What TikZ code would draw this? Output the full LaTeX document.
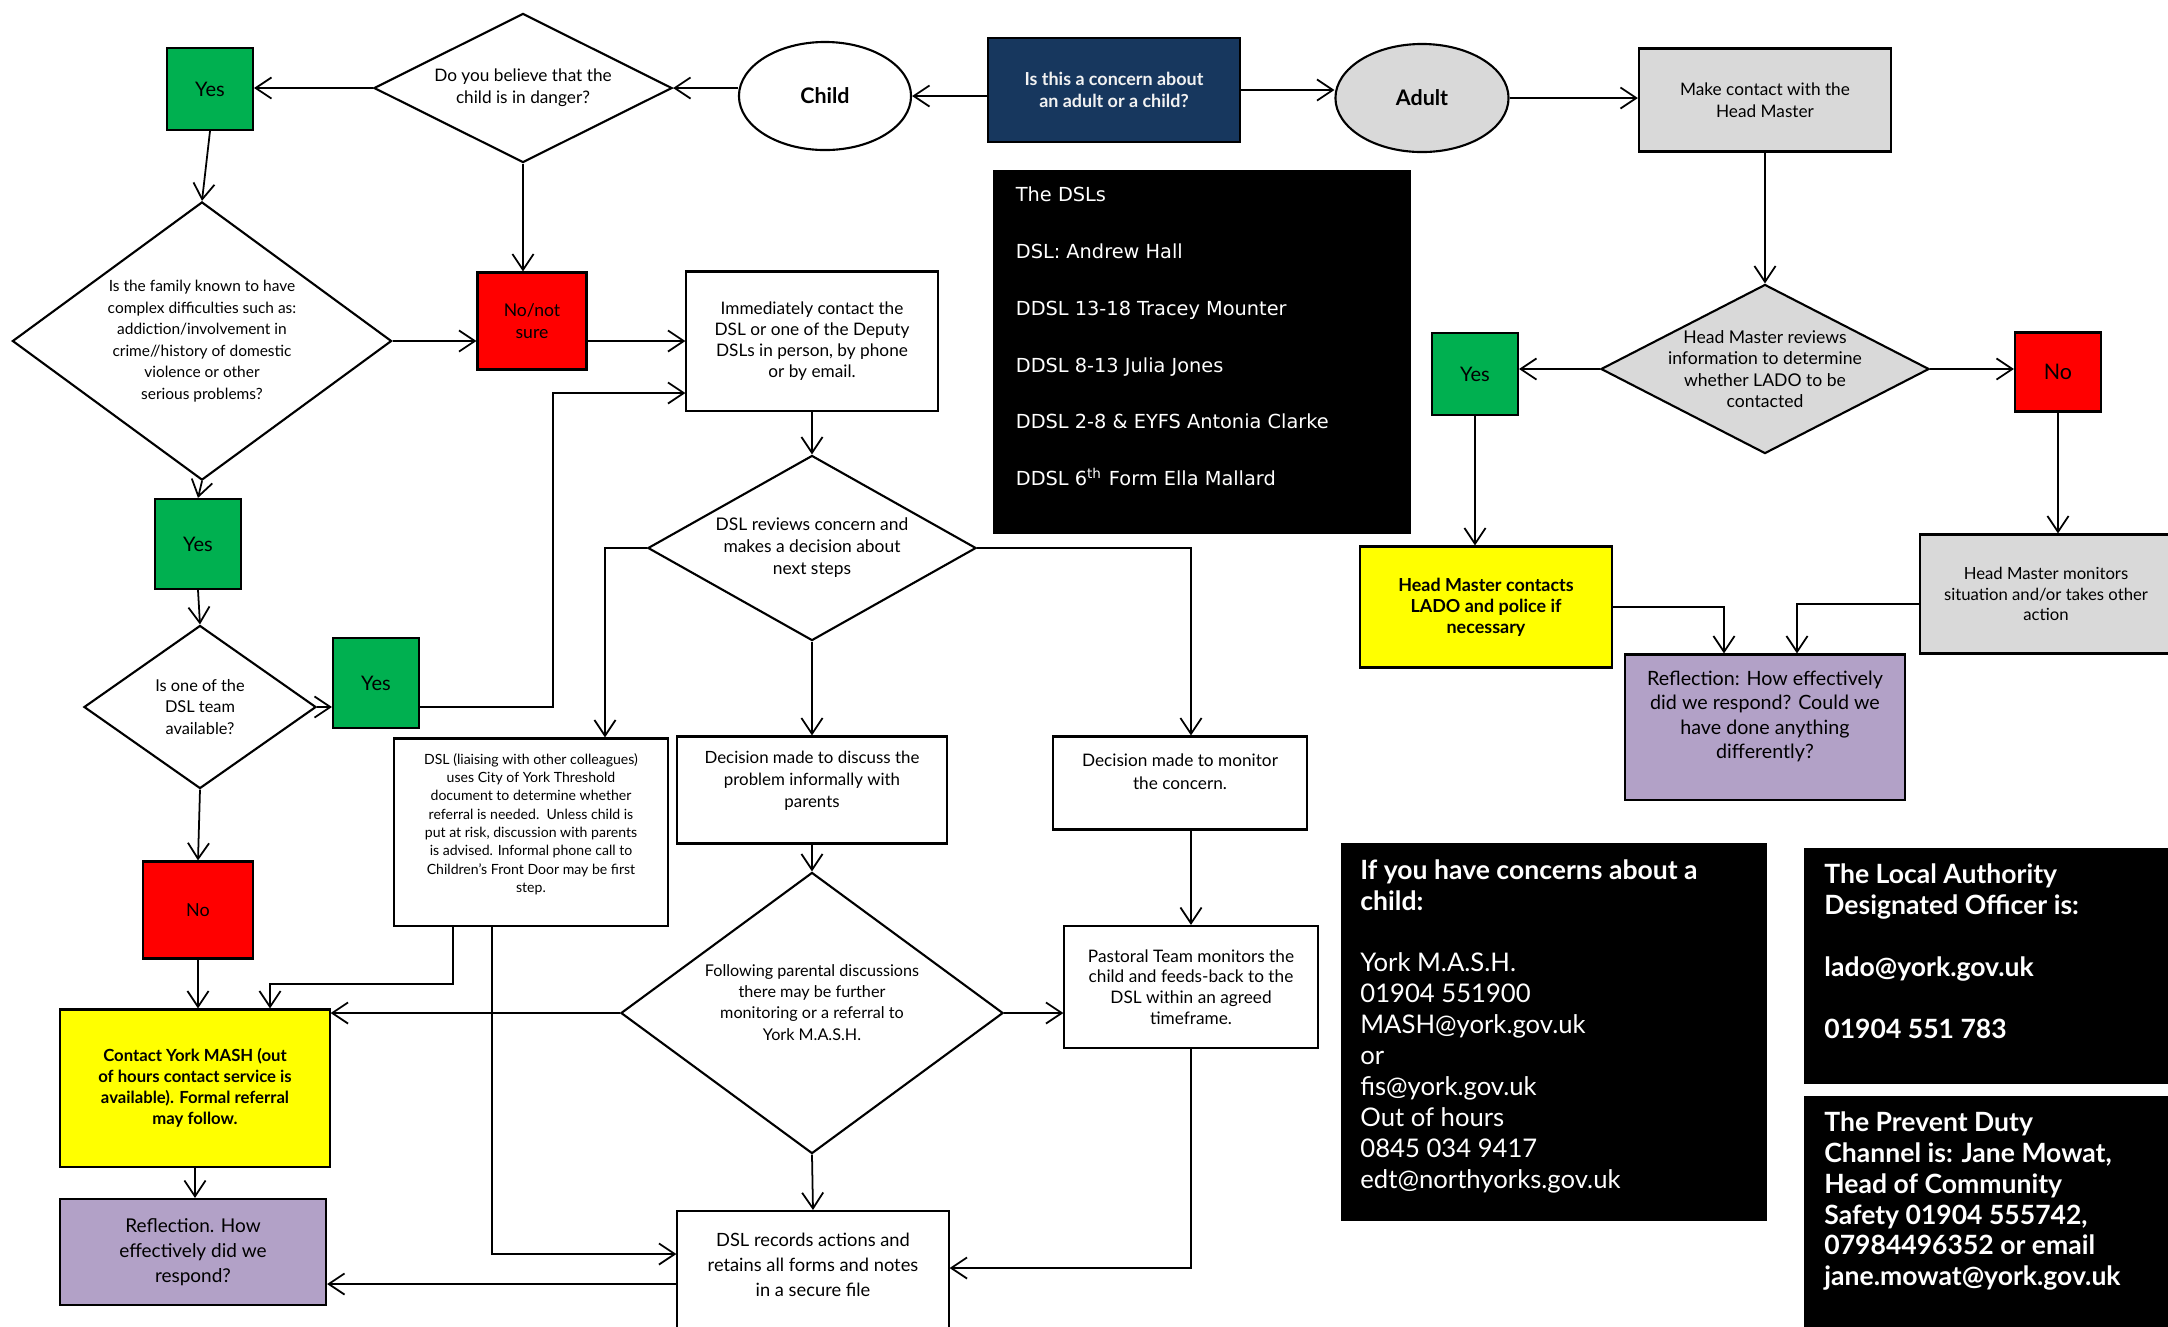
\documentclass[tikz,border=0pt]{standalone}
\usepackage{fontspec}
\setmainfont{Lato}
\newfontfamily\dslfont{DejaVu Sans}
\usepackage{tikz}
\usetikzlibrary{
  arrows.meta,
  positioning,
  shapes.geometric,
  calc
}
\definecolor{navy}{HTML}{17375E}
\definecolor{flowgreen}{HTML}{00B050}
\definecolor{flowred}{HTML}{FF0000}
\definecolor{flowyellow}{HTML}{FFFF00}
\definecolor{lilac}{HTML}{B2A1C7}
\definecolor{paleg}{HTML}{D9D9D9}
\newcommand{\fsz}[2]{\fontsize{#1}{#2}\selectfont}
\tikzset{
  box/.style={
    rectangle,
    draw,
    line width=0.6pt,
    align=center,
    inner sep=0pt
  },
  yesbox/.style={
    box,
    fill=flowgreen,
    minimum width=0.86cm,
    font=\fsz{5.7pt}{7pt}
  },
  redbox/.style={
    box,
    fill=flowred
  },
  decision/.style={
    diamond,
    draw,
    line width=0.6pt,
    align=center,
    inner sep=0pt
  },
  oval/.style={
    ellipse,
    draw,
    line width=0.6pt,
    inner sep=0pt,
    font=\bfseries\fsz{6.1pt}{7pt}
  },
  infobox/.style={
    rectangle,
    fill=black,
    draw=black,
    inner sep=0pt
  },
  infotext/.style={
    text=white,
    align=left,
    inner sep=0pt,
    anchor=north west
  },
  arrow/.style={
    -{Straight Barb[length=4.5pt,width=6pt]},
    line width=0.5pt
  }
}

\begin{document}
\begin{tikzpicture}[x=0.01cm,y=-0.01cm]
\path[use as bounding box,fill=white] (0,0) rectangle (2168,1326);

% top row
\node[box,fill=navy,text=white!95!black,minimum width=2.52cm,minimum height=1.04cm,font=\bfseries\fsz{5.1pt}{6.1pt}] (concern) at (1114,90) {Is this a concern about\\an adult or a child?};
\node[oval,fill=white,minimum width=1.72cm,minimum height=1.08cm] (child) at (825,96) {Child};
\node[oval,fill=paleg,minimum width=1.73cm,minimum height=1.08cm] (adult) at (1422,98) {Adult};
\node[decision,aspect=2,minimum width=2.98cm,minimum height=1.49cm,font=\fsz{4.9pt}{6.2pt}] (danger) at (523,88) {Do you believe that the\\child is in danger?};
\node[yesbox,minimum height=0.82cm] (yesA) at (210,89) {Yes};

% child side, left column
\node[decision,aspect=1.36,minimum width=3.79cm,minimum height=2.78cm,inner xsep=-0.03cm,font=\fsz{4.4pt}{6.1pt}] (family) at (202,341)
  {Is the family known to have\\complex difficulties such as:\\addiction/involvement in\\crime//history of domestic\\violence or other\\serious problems?};
\node[redbox,minimum width=1.09cm,minimum height=0.97cm,font=\fsz{5pt}{6.2pt}] (nonot) at (532,321) {No/not\\sure};
\node[yesbox,minimum height=0.90cm] (yesB) at (198,544) {Yes};
\node[decision,aspect=1.42,minimum width=2.32cm,minimum height=1.63cm,font=\fsz{4.65pt}{6pt}] (avail) at (200,707) {Is one of the\\DSL team\\available?};
\node[yesbox,minimum height=0.90cm] (yesC) at (376,683) {Yes};
\node[redbox,minimum width=1.10cm,minimum height=0.97cm,font=\fsz{5.1pt}{6.2pt}] (nobox) at (198,910) {No};
\node[box,fill=flowyellow,minimum width=2.69cm,minimum height=1.57cm,font=\bfseries\fsz{4.75pt}{6pt}] (mash) at (195,1088)
  {Contact York MASH (out\\of hours contact service is\\available). Formal referral\\may follow.};
\node[box,fill=lilac,minimum width=2.66cm,minimum height=1.06cm,font=\fsz{5.4pt}{7.1pt}] (reflA) at (193,1252) {Reflection. How\\effectively did we\\respond?};

% DSL column
\node[box,minimum width=2.51cm,minimum height=1.39cm,font=\fsz{4.9pt}{5.9pt}] (immediately) at (812,341)
  {Immediately contact the\\DSL or one of the Deputy\\DSLs in person, by phone\\or by email.};
\node[decision,aspect=1.77,minimum width=3.28cm,minimum height=1.85cm,font=\fsz{4.95pt}{6.25pt}] (dslrev) at (812,548)
  {DSL reviews concern and\\makes a decision about\\next steps};
\node[box,minimum width=2.74cm,minimum height=1.87cm,font=\fsz{4pt}{5.2pt}] (threshold) at (531,832)
  {DSL (liaising with other colleagues)\\uses City of York Threshold\\document to determine whether\\referral is needed.\ \ Unless child is\\put at risk, discussion with parents\\is advised. Informal phone call to\\Children's Front Door may be first\\step.\\~};
\node[box,minimum width=2.69cm,minimum height=1.07cm,font=\fsz{4.8pt}{6.2pt}] (discuss) at (812,790)
  {Decision made to discuss the\\problem informally with\\parents\\~};
\node[decision,aspect=1.36,minimum width=3.82cm,minimum height=2.81cm,font=\fsz{4.6pt}{6pt}] (following) at (812,1013)
  {Following parental discussions\\there may be further\\monitoring or a referral to\\York M.A.S.H.\\~};
\node[box,anchor=north,minimum width=2.71cm,minimum height=1.32cm,font=\fsz{5.2pt}{7.1pt}] (records) at (813,1210)
  {DSL records actions and\\retains all forms and notes\\in a secure file\\~};
\node[box,minimum width=2.53cm,minimum height=0.93cm,font=\fsz{4.9pt}{6.5pt}] (monitor) at (1180,783)
  {Decision made to monitor\\the concern.\\~};
\node[box,minimum width=2.53cm,minimum height=1.22cm,font=\fsz{4.9pt}{5.9pt}] (pastoral) at (1191,987)
  {Pastoral Team monitors the\\child and feeds-back to the\\DSL within an agreed\\timeframe.};

% adult side
\node[box,fill=paleg,minimum width=2.52cm,minimum height=1.03cm,font=\fsz{4.9pt}{6.2pt}] (makecontact) at (1765,100) {Make contact with the\\Head Master};
\node[decision,fill=paleg,aspect=1.94,minimum width=3.28cm,minimum height=1.69cm,inner xsep=-0.15cm,font=\fsz{5pt}{6.1pt}] (hmrev) at (1765,369)
  {Head Master reviews\\information to determine\\whether LADO to be\\contacted};
\node[yesbox,minimum height=0.82cm] (yesD) at (1475,374) {Yes};
\node[redbox,minimum width=0.86cm,minimum height=0.79cm,font=\fsz{6.1pt}{7pt}] (noD) at (2058,372) {No};
\node[box,fill=flowyellow,minimum width=2.52cm,minimum height=1.21cm,font=\bfseries\fsz{5.1pt}{6pt}] (hmcontacts) at (1486,607)
  {Head Master contacts\\LADO and police if\\necessary};
\node[box,fill=paleg,minimum width=2.52cm,minimum height=1.19cm,font=\fsz{4.75pt}{5.8pt}] (hmmonitors) at (2046,594)
  {Head Master monitors\\situation and/or takes other\\action};
\node[box,fill=lilac,minimum width=2.79cm,minimum height=1.45cm,font=\fsz{5.6pt}{7pt}] (reflB) at (1765,727)
  {Reflection: How effectively\\did we respond? Could we\\have done anything\\differently?\\~};

% black panels
\node[infobox,minimum width=4.16cm,minimum height=3.63cm] (dsls) at (1202,352) {};
\node[infotext,font=\dslfont\fsz{5.5pt}{16.2pt},below right=0.16cm and 0.22cm of dsls.north west] (dslnames)
  {The DSLs\\DSL: Andrew Hall\\DDSL 13-18 Tracey Mounter\\DDSL 8-13 Julia Jones\\DDSL 2-8 \& EYFS Antonia Clarke\\DDSL 6\textsuperscript{th} Form Ella Mallard};
\node[infobox,minimum width=4.25cm,minimum height=3.77cm] (ifyou) at (1554,1032) {};
\node[infotext,font=\fsz{7.3pt}{8.8pt},below right=0.16cm and 0.19cm of ifyou.north west] (ifyoutext)
  {\fsz{7.55pt}{8.8pt}\textbf{If you have concerns about a}\\\fsz{7.55pt}{8.8pt}\textbf{child:}\\[8.8pt]York M.A.S.H.\\01904 551900\\MASH@york.gov.uk\\or\\fis@york.gov.uk\\Out of hours\\0845 034 9417\\edt@northyorks.gov.uk};
\node[infobox,minimum width=3.67cm,minimum height=2.34cm] (lado) at (1988,966) {};
\node[infotext,font=\bfseries\fsz{7.55pt}{8.8pt},below right=0.15cm and 0.20cm of lado.north west] (ladotext)
  {The Local Authority\\Designated Officer is:\\[8.8pt]lado@york.gov.uk\\[8.8pt]01904 551 783};
\node[infobox,minimum width=3.67cm,minimum height=2.43cm] (prevent) at (1988,1218) {};
\node[infotext,font=\bfseries\fsz{7.55pt}{8.8pt},below right=0.15cm and 0.20cm of prevent.north west] (preventtext)
  {The Prevent Duty\\Channel is: Jane Mowat,\\Head of Community\\Safety 01904 555742,\\07984496352 or email\\jane.mowat@york.gov.uk};

% top row arrows
\draw[arrow] (concern.west |- child.east) -- (child.east);
\draw[arrow] (concern.east) -- (concern.east -| adult.west);
\draw[arrow] (danger.east -| child.west) -- (danger.east);
\draw[arrow] (adult.east) -- (adult.east -| makecontact.west);

% child branch
\draw[arrow] (danger.west) -- (danger.west -| yesA.east);
\draw[arrow] (yesA.south) -- (family.north);
\draw[arrow] (danger.south) -- (danger.south |- nonot.north);
\draw[arrow] (family.east) -- (family.east -| nonot.west);
\draw[arrow] (nonot.east |- immediately.west) -- (immediately.west);
\draw[arrow] (family.south) -- (yesB.north);
\draw[arrow] (yesB.south) -- (avail.north);
\draw[arrow] (avail.east) -- (avail.east -| yesC.west);
\draw[arrow] (yesC.east |- avail.east) -- ++(133,0) |- ($(immediately.west)+(0,52)$);
\draw[arrow] (avail.south) -- (nobox.north);
\draw[arrow] (nobox.south) -- (nobox.south |- mash.north);
\draw[arrow] (mash.south) -- (mash.south |- reflA.north);

% DSL decisions
\draw[arrow] (immediately.south) -- (dslrev.north);
\draw[arrow] (dslrev.west) -| ($(threshold.north)+(74,0)$);
\draw[arrow] (dslrev.south) -- (discuss.north);
\draw[arrow] (dslrev.east) -| (pastoral.north |- monitor.north);
\draw[arrow] (pastoral.north |- monitor.south) -- (pastoral.north);
\draw[arrow] (discuss.south) -- (following.north);
\draw[arrow] (following.east) -- (following.east -| pastoral.west);
\draw[arrow] (following.west) -- (following.west -| mash.east);
\draw[arrow] (following.south) -- (records.north);
\draw[arrow] (pastoral.south) |- ($(records.north east)+(0,58)$);
\draw[arrow] ($(threshold.south west)+(60,0)$) -- ++(0,57) -| ($(mash.north)+(75,0)$);
\draw[arrow] ($(threshold.south west)+(99,0)$) |- ($(records.north west)+(0,44)$);
\draw[arrow] ($(records.north west)+(0,74)$) coordinate (recleft) -- (recleft -| reflA.east);

% adult branch
\draw[arrow] (makecontact.south) -- (hmrev.north);
\draw[arrow] (hmrev.west) -- (hmrev.west -| yesD.east);
\draw[arrow] (hmrev.east) -- (hmrev.east -| noD.west);
\draw[arrow] (yesD.south) -- (yesD.south |- hmcontacts.north);
\draw[arrow] (noD.south) -- (noD.south |- hmmonitors.north);
\draw[arrow] (hmcontacts.east) -| ($(reflB.north)+(-41,0)$);
\draw[arrow] ($(hmmonitors.west)+(0,10)$) -| ($(reflB.north)+(32,0)$);
\end{tikzpicture}
\end{document}
